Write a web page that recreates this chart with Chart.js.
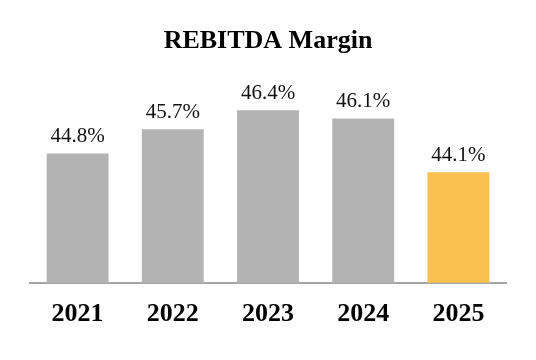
<!DOCTYPE html>
<html>
<head>
<meta charset="utf-8">
<script src="https://cdn.jsdelivr.net/npm/chart.js@4"></script>
<style>
  html, body { margin: 0; padding: 0; background: #ffffff; }
  #wrap { width: 536px; height: 360px; }
</style>
</head>
<body>
<div id="wrap"><canvas id="bar"></canvas></div>
<script>
// chart data
var years = ["2021", "2022", "2023", "2024", "2025"];
var margins = [44.8, 45.7, 46.4, 46.1, 44.1];
var barColors = ["#b3b3b3", "#b3b3b3", "#b3b3b3", "#b3b3b3", "#f8c150"];

// draw the value above each bar
var valueLabels = {
  id: "valueLabels",
  afterDatasetsDraw: function (chart) {
    var ctx = chart.ctx;
    var meta = chart.getDatasetMeta(0);
    ctx.save();
    ctx.font = "21px 'Liberation Serif'";
    ctx.fillStyle = "#111111";
    ctx.textAlign = "center";
    ctx.textBaseline = "alphabetic";
    for (var i = 0; i < meta.data.length; i++) {
      var bar = meta.data[i];
      ctx.fillText(margins[i].toFixed(1) + "%", bar.x, bar.y - 11);
    }
    ctx.restore();
  },
};

var ctx = document.getElementById("bar").getContext("2d");
var chart = new Chart(ctx, {
  type: "bar",
  data: {
    labels: years,
    datasets: [
      {
        label: "REBITDA Margin",
        data: margins,
        backgroundColor: barColors,
        categoryPercentage: 1.0,
        barPercentage: 0.65,
      },
    ],
  },
  options: {
    responsive: true,
    maintainAspectRatio: false,
    animation: false,
    layout: {
      padding: { left: 30, right: 30, top: 0, bottom: 15 },
    },
    plugins: {
      legend: { display: false },
      tooltip: { enabled: false },
      title: {
        display: true,
        text: "REBITDA Margin",
        color: "#000000",
        font: { family: "'Liberation Serif'", size: 26, weight: "bold" },
        padding: { top: 26, bottom: 10 },
      },
    },
    scales: {
      x: {
        grid: { display: false, drawTicks: false },
        border: { display: true, color: "#a6a6a6", width: 2 },
        ticks: {
          color: "#000000",
          padding: 15.5,
          font: { family: "'Liberation Serif'", size: 26, weight: "bold" },
        },
      },
      y: {
        display: false,
        min: 40,
        max: 48,
      },
    },
  },
  plugins: [valueLabels],
});
</script>
</body>
</html>
